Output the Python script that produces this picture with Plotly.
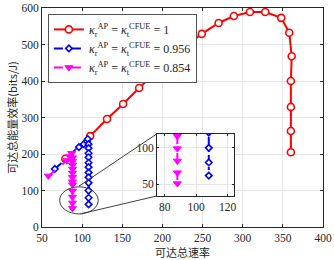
import plotly.graph_objects as go

# ---- data ----
red_x = [79, 110, 131, 151, 171, 191, 211, 229, 249, 270, 289, 309, 328, 348, 358, 361, 360, 360, 360, 360]
red_y = [187, 249, 296, 337, 381, 422, 460, 496, 529, 559, 578, 589, 589, 573, 532, 468, 400, 329, 263, 205]

blue_x = [66, 96, 102, 106, 107, 108, 108, 108, 108, 108, 108, 108, 108, 108, 108, 108, 108]
blue_y = [159, 219, 227, 235, 241, 227, 216, 202, 191, 176, 164, 149, 136, 121, 100, 80, 62]

mag_x = [58, 81, 85, 87, 88, 88, 88, 88, 88, 88, 88, 88, 88, 88, 88, 88]
mag_y = [140, 182, 193, 202, 190, 180, 170, 159, 148, 136, 124, 116, 99, 82, 66, 51]

names = ["<i>κ</i><sub>r</sub><sup>AP</sup> = <i>κ</i><sub>t</sub><sup>CFUE</sup> = 1",
         "<i>κ</i><sub>r</sub><sup>AP</sup> = <i>κ</i><sub>t</sub><sup>CFUE</sup> = 0.956",
         "<i>κ</i><sub>r</sub><sup>AP</sup> = <i>κ</i><sub>t</sub><sup>CFUE</sup> = 0.854"]

x_title = "可达总速率"
y_title = "可达总能量效率(bits/J)"

FONT = "Liberation Serif, Times New Roman, Noto Sans CJK SC, serif"
CJK = "Noto Sans CJK SC, Liberation Serif"
AX = "#262626"
GRID = "#e6e6e6"

fig = go.Figure()

def add_series(xa, ya, show):
    fig.add_trace(go.Scatter(x=red_x, y=red_y, mode="lines+markers", name=names[0],
                             line=dict(color="#ff0000", width=2),
                             marker=dict(symbol="circle", size=7, color="white",
                                         line=dict(color="#ff0000", width=1.6)),
                             xaxis=xa, yaxis=ya, showlegend=show))
    fig.add_trace(go.Scatter(x=blue_x, y=blue_y, mode="lines+markers", name=names[1],
                             line=dict(color="#0000ff", width=2, dash="dashdot"),
                             marker=dict(symbol="diamond", size=5, color="white",
                                         line=dict(color="#0000ff", width=1.6)),
                             xaxis=xa, yaxis=ya, showlegend=show))
    fig.add_trace(go.Scatter(x=mag_x, y=mag_y, mode="lines+markers", name=names[2],
                             line=dict(color="#ff00ff", width=2, dash="dash"),
                             marker=dict(symbol="triangle-down", size=7, color="#ff00ff",
                                         line=dict(color="#ff00ff", width=1)),
                             xaxis=xa, yaxis=ya, showlegend=show))

add_series("x", "y", True)
add_series("x2", "y2", False)

fig.update_layout(
    width=334, height=260,
    margin=dict(l=42, r=11, t=8, b=33, autoexpand=False),
    plot_bgcolor="white", paper_bgcolor="white",
    font=dict(family=FONT, size=11, color=AX),
    xaxis=dict(range=[50, 400], tickvals=[50, 100, 150, 200, 250, 300, 350, 400],
               showgrid=True, gridcolor=GRID, zeroline=False, automargin=False,
               ticks="inside", ticklen=3, tickcolor=AX, showline=True, linecolor=AX,
               linewidth=1, mirror="ticks",
               title=dict(text=x_title, font=dict(family=CJK, size=11), standoff=1),
               tickfont=dict(size=11.5)),
    yaxis=dict(range=[0, 600], tickvals=[0, 100, 200, 300, 400, 500, 600],
               showgrid=True, gridcolor=GRID, zeroline=False, automargin=False,
               ticks="inside", ticklen=3, tickcolor=AX, showline=True, linecolor=AX,
               linewidth=1, mirror="ticks",
               title=dict(text=y_title, font=dict(family=CJK, size=11), standoff=1),
               tickfont=dict(size=11.5)),
    xaxis2=dict(domain=[0.409, 0.683], anchor="y2", range=[75, 124],
                tickvals=[80, 100, 120], showgrid=True, gridcolor=GRID, zeroline=False,
                ticks="inside", ticklen=2, tickcolor=AX, showline=True, linecolor=AX,
                mirror="ticks", tickfont=dict(size=11.5), automargin=False),
    yaxis2=dict(domain=[0.1416, 0.4247], anchor="x2", range=[34, 119],
                tickvals=[50, 100], showgrid=True, gridcolor=GRID, zeroline=False,
                ticks="inside", ticklen=2, tickcolor=AX, showline=True, linecolor=AX,
                mirror="ticks", tickfont=dict(size=11.5), automargin=False),
    legend=dict(x=0.021, y=0.973, xanchor="left", yanchor="top",
                bgcolor="white", bordercolor="#555555", borderwidth=1,
                font=dict(family=FONT, size=12, color=AX),
                tracegroupgap=0, itemwidth=30),
    showlegend=True,
)

# ellipse and connector lines (data coords on main axes)
fig.add_shape(type="circle", xref="x", yref="y", x0=72, x1=120, y0=36, y1=110,
              line=dict(color="#404040", width=1), layer="above")
fig.add_shape(type="line", xref="x", yref="y", x0=96, y0=112, x1=193, y1=255,
              line=dict(color="#404040", width=1))
fig.add_shape(type="line", xref="x", yref="y", x0=98, y0=36, x1=193, y1=85,
              line=dict(color="#404040", width=1))
# inset background
fig.add_shape(type="rect", xref="x2 domain", yref="y2 domain", x0=0, x1=1, y0=0, y1=1,
              fillcolor="white", line=dict(width=0), layer="below")

fig.write_html("out.html", config={"displayModeBar": False},
               post_script="document.body.style.margin='0';document.body.style.padding='0';")
